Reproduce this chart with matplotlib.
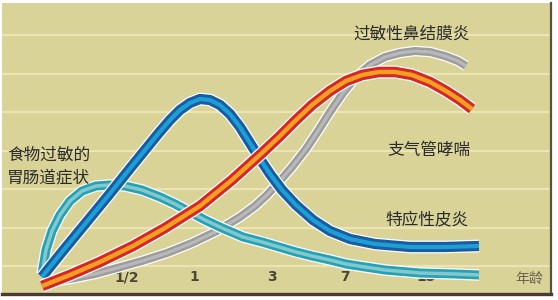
import matplotlib

matplotlib.use("Agg")
import matplotlib.pyplot as plt
import numpy as np

plt.rcParams["font.family"] = ["Noto Sans CJK SC", "DejaVu Sans"]

# curves: x = position along the age axis, y = level
blue_x = [42, 62, 85, 108, 128, 145, 158, 170, 180, 190, 200, 210, 220, 230, 240, 250, 260, 270, 282, 296, 313, 330, 350, 375, 410, 445, 479]
blue_y = [17, 42, 70, 98, 123, 144, 160, 174, 184, 191, 195, 194, 189, 180, 167, 151, 135, 120, 104, 89, 74, 63, 55, 50, 47, 47, 48]

teal_x = [42, 46, 52, 60, 70, 82, 96, 110, 125, 142, 160, 175, 190, 205, 222, 243, 262, 279, 296, 312, 330, 346, 365, 385, 420, 455, 479]
teal_y = [20, 44, 63, 79, 93, 103, 108, 109, 108, 104, 97, 90, 82, 74, 66, 57, 52, 47, 42, 38, 34, 30, 27, 24, 21, 20, 19]

gray_x = [45, 70, 95, 117, 142, 167, 192, 217, 240, 255, 267, 279, 292, 306, 318, 330, 343, 356, 370, 385, 400, 415, 430, 445, 458, 466]
gray_y = [11, 15, 20, 26, 33, 41, 51, 63, 77, 88, 99, 112, 127, 145, 163, 182, 201, 217, 229, 237, 241, 243, 242, 238, 233, 228]

red_x = [42, 70, 100, 133, 165, 200, 232, 262, 279, 295, 312, 330, 346, 362, 379, 395, 412, 430, 446, 460, 472]
red_y = [8, 19, 32, 48, 66, 88, 114, 141, 157, 173, 189, 203, 213, 219, 222, 222, 219, 212, 203, 194, 185]

age_pos = [127, 194, 272, 345, 426]
age_labels = ["1/2", "1", "3", "7", "15"]

BG = "#d9d398"
GRID = "#ece5b3"

fig = plt.figure(figsize=(5.58, 3.0), dpi=100, facecolor="white")
ax = fig.add_axes([2 / 558, 6 / 300, 549 / 558, 291 / 300])
ax.set_facecolor(BG)
ax.set_xlim(2, 551)
ax.set_ylim(0, 291)

ax.set_yticks(np.linspace(28, 259, 7))
ax.yaxis.grid(True, color=GRID, linewidth=1.6)
ax.tick_params(axis="y", length=0, labelleft=False)
ax.set_xticks(age_pos, age_labels)
ax.tick_params(axis="x", length=0, pad=-17, labelsize=10, labelcolor="#4d4535")
for lab in ax.get_xticklabels():
    lab.set_fontweight("bold")
    lab.set_family("DejaVu Sans")

for side in ("top", "left"):
    ax.spines[side].set_visible(False)
ax.spines["bottom"].set_color("#4a3a30")
ax.spines["bottom"].set_linewidth(2.4)
ax.spines["right"].set_color("#5a4e46")
ax.spines["right"].set_linewidth(1.6)


def band(x, y, outer, inner, width, inner_width, z):
    kw = dict(solid_capstyle="butt", solid_joinstyle="round")
    ax.plot(x, y, color="white", linewidth=width + 1.8, zorder=z, **kw)
    ax.plot(x, y, color=outer, linewidth=width, zorder=z + 0.1, **kw)
    ax.plot(x, y, color=inner, linewidth=inner_width, zorder=z + 0.2, **kw)


band(gray_x, gray_y, "#9d9d9d", "#b9b9b9", 5.8, 2.2, 3)
band(teal_x, teal_y, "#27a2b4", "#82c9cf", 6.5, 2.5, 4)
band(blue_x, blue_y, "#1b5ba2", "#1ba0d6", 7.4, 3.0, 5)
band(red_x, red_y, "#d6262a", "#f2a11f", 7.6, 3.2, 6)

txt = dict(fontsize=12, color="#2b2b2b", zorder=8)
ax.text(412, 260, "过敏性鼻结膜炎", ha="center", va="center", **txt)
ax.text(429, 144, "支气管哮喘", ha="center", va="center", **txt)
ax.text(427, 74, "特应性皮炎", ha="center", va="center", **txt)
ax.text(7, 139, "食物过敏的", ha="left", va="center", **txt)
ax.text(7, 116, "胃肠道症状", ha="left", va="center", **txt)
ax.text(529, 15, "年龄", ha="center", va="center", fontsize=10, color="#6b6350", zorder=8)

fig.savefig("out.png", dpi=100, facecolor="white")
